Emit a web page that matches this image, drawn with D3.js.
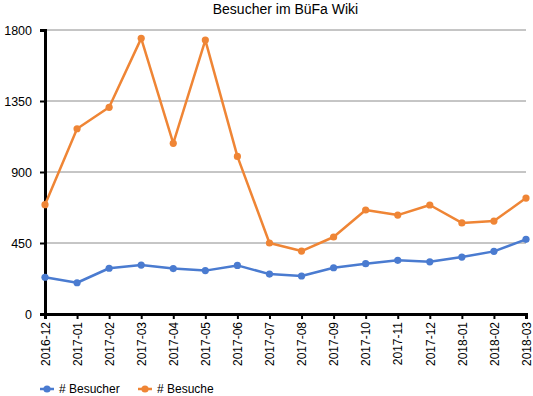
<!DOCTYPE html>
<html>
<head>
<meta charset="utf-8">
<script src="https://cdn.jsdelivr.net/npm/d3@7"></script>
<style>
  body { margin: 0; background: #fff; }
  text { font-family: "Liberation Sans", Arial, sans-serif; }
</style>
</head>
<body>
<script>
// data
const months = ["2016-12","2017-01","2017-02","2017-03","2017-04","2017-05","2017-06","2017-07",
  "2017-08","2017-09","2017-10","2017-11","2017-12","2018-01","2018-02","2018-03"]
const besucher = [233, 198, 290, 310, 288, 275, 308, 253, 241, 293, 319, 340, 331, 361, 397, 473]
const besuche = [693, 1174, 1310, 1747, 1082, 1736, 999, 450, 399, 488, 659, 627, 691, 577, 589, 735]
const yTicks = [0, 450, 900, 1350, 1800]
const seriesNames = ["# Besucher", "# Besuche"]
const colors = ["#4a7bd0", "#ef8535"]

const dimensions = {
  width: 533,
  height: 396,
  margin: { top: 30, right: 7, bottom: 82, left: 45 }
}
dimensions.boundedWidth = dimensions.width - dimensions.margin.left - dimensions.margin.right
dimensions.boundedHeight = dimensions.height - dimensions.margin.top - dimensions.margin.bottom

const svg = d3.select("body").append("svg")
  .attr("width", dimensions.width)
  .attr("height", dimensions.height)

const bounds = svg.append("g")
  .attr("transform", `translate(${dimensions.margin.left},${dimensions.margin.top})`)

// scales
const xScale = d3.scalePoint()
  .domain(months)
  .range([0, dimensions.boundedWidth])

const yScale = d3.scaleLinear()
  .domain([0, 1800])
  .range([dimensions.boundedHeight, 0])

// title
svg.append("text")
  .attr("x", dimensions.margin.left + dimensions.boundedWidth / 2)
  .attr("y", 14)
  .attr("text-anchor", "middle")
  .style("font-size", "14px")
  .text("Besucher im BüFa Wiki")

// gridlines
bounds.append("g")
  .selectAll("line")
  .data(yTicks.filter(d => d > 0))
  .join("line")
  .attr("x1", 0)
  .attr("x2", dimensions.boundedWidth)
  .attr("y1", d => yScale(d))
  .attr("y2", d => yScale(d))
  .attr("stroke", "#8c8c8c")
  .attr("stroke-width", 1)

// y axis
const yAxis = bounds.append("g")
  .call(d3.axisLeft(yScale).tickValues(yTicks).tickFormat(d3.format("d")).tickSize(5).tickPadding(8))
yAxis.select(".domain").attr("stroke", "#000").attr("stroke-width", 3)
yAxis.selectAll(".tick line").attr("stroke", "#000").attr("stroke-width", 2)
yAxis.selectAll(".tick text")
  .style("font-size", "12.5px")
  .style("font-family", "Liberation Sans, Arial, sans-serif")
  .attr("fill", "#000")

// x axis
const xAxis = bounds.append("g")
  .attr("transform", `translate(0,${dimensions.boundedHeight})`)
  .call(d3.axisBottom(xScale).tickSize(5).tickPadding(8))
xAxis.select(".domain").attr("stroke", "#000").attr("stroke-width", 3)
xAxis.selectAll(".tick line").attr("stroke", "#000").attr("stroke-width", 2)
xAxis.selectAll(".tick text")
  .style("font-size", "12px")
  .style("font-family", "Liberation Sans, Arial, sans-serif")
  .attr("fill", "#000")
  .attr("transform", "rotate(-90)")
  .attr("text-anchor", "end")
  .attr("x", -8)
  .attr("y", 0)
  .attr("dy", "0.35em")

// lines
const series = [besucher, besuche]
const lineGenerator = d3.line()
  .x((d, i) => xScale(months[i]))
  .y(d => yScale(d))

series.forEach((values, k) => {
  bounds.append("path")
    .datum(values)
    .attr("fill", "none")
    .attr("stroke", colors[k])
    .attr("stroke-width", 2.5)
    .attr("stroke-linejoin", "round")
    .attr("d", lineGenerator)

  bounds.append("g")
    .selectAll("circle")
    .data(values)
    .join("circle")
    .attr("cx", (d, i) => xScale(months[i]))
    .attr("cy", d => yScale(d))
    .attr("r", 3.6)
    .attr("fill", colors[k])
})

// legend
const legend = svg.append("g")
  .attr("transform", "translate(40,389)")
const legendX = [0, 98]
seriesNames.forEach((name, k) => {
  const g = legend.append("g").attr("transform", `translate(${legendX[k]},0)`)
  g.append("line")
    .attr("x1", 0).attr("x2", 14)
    .attr("stroke", colors[k]).attr("stroke-width", 2.5)
  g.append("circle")
    .attr("cx", 7).attr("r", 3.6)
    .attr("fill", colors[k])
  g.append("text")
    .attr("x", 19)
    .attr("dy", "0.35em")
    .style("font-size", "12px")
    .text(name)
})
</script>
</body>
</html>
